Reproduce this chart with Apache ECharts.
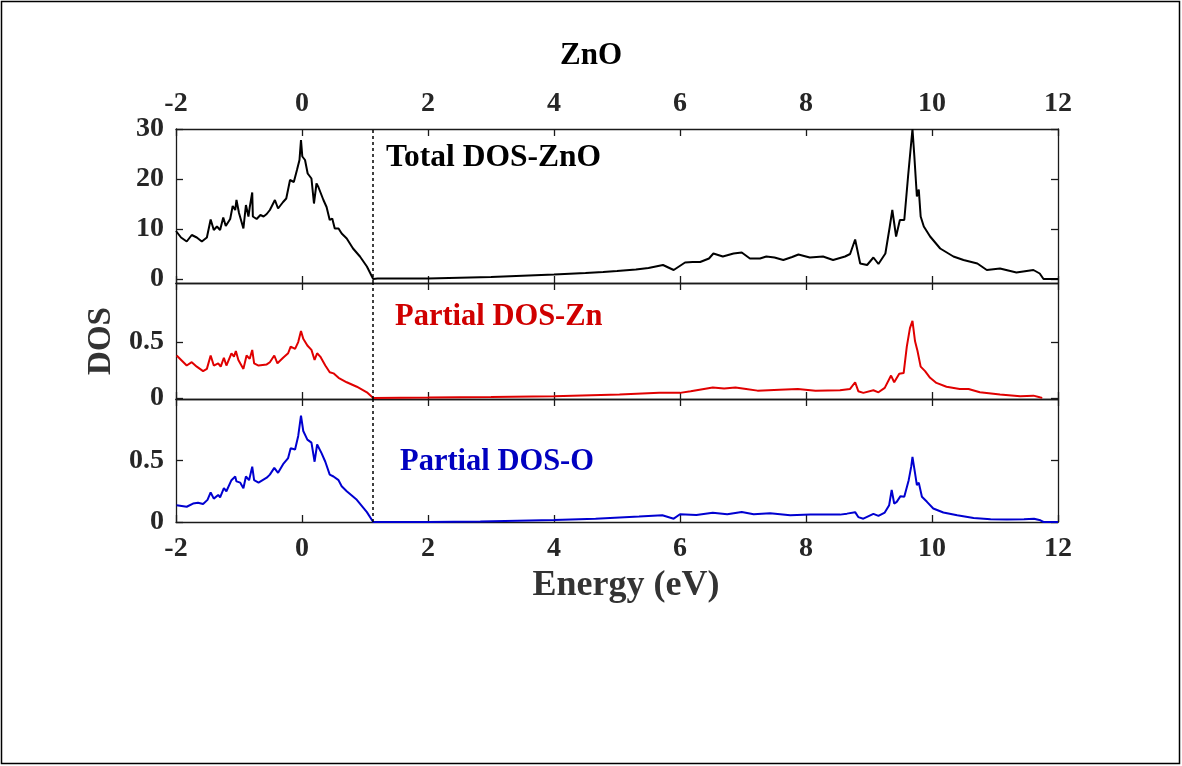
<!DOCTYPE html>
<html>
<head>
<meta charset="utf-8">
<script src="https://cdn.jsdelivr.net/npm/echarts@6/dist/echarts.min.js"></script>
<style>
html,body{margin:0;padding:0;background:#fff;}
#chart{width:1182px;height:766px;}
</style>
</head>
<body>
<div id="chart"></div>
<script>
// ---------- data ----------
const chartTitle = 'ZnO';
const xAxisName = 'Energy (eV)';
const yAxisName = 'DOS';
const panelLabels = ['Total DOS-ZnO', 'Partial DOS-Zn', 'Partial DOS-O'];
const energyTicks = [-2, 0, 2, 4, 6, 8, 10, 12];
const totalTicks = [0, 10, 20, 30];
const partialTicks = [0, 0.5];
const gapEdge = 1.13;

const energyTotal = [-2.00,-1.92,-1.83,-1.75,-1.67,-1.59,-1.51,-1.45,-1.40,-1.35,-1.30,-1.25,-1.21,-1.14,-1.10,-1.06,-1.04,-1.00,-0.93,-0.89,-0.85,-0.83,-0.79,-0.78,-0.72,-0.66,-0.61,-0.56,-0.51,-0.43,-0.38,-0.30,-0.25,-0.19,-0.13,-0.08,-0.04,-0.016,0.005,0.048,0.09,0.15,0.19,0.23,0.26,0.34,0.39,0.44,0.48,0.52,0.58,0.63,0.71,0.81,0.92,1.03,1.13,
  1.2,2.0,3.0,4.0,4.5,4.78,5.0,5.3,5.5,5.73,5.9,6.08,6.2,6.32,6.46,6.53,6.68,6.85,6.98,7.11,7.27,7.37,7.5,7.64,7.78,7.88,8.06,8.27,8.43,8.62,8.7,8.78,8.86,8.97,9.07,9.15,9.26,9.33,9.37,9.43,9.49,9.56,9.62,9.69,9.72,9.76,9.79,9.82,9.87,9.97,10.13,10.34,10.5,10.72,10.87,11.08,11.34,11.61,11.71,11.77,12.0];
const dosTotal = [9.6,8.3,7.5,8.8,8.3,7.5,8.3,11.9,9.8,10.5,9.8,12.3,10.6,12.0,14.6,13.8,15.8,13.2,10.1,14.8,12.5,14.3,17.3,12.5,12.0,12.8,12.5,13.0,13.8,15.8,14.1,15.4,16.1,19.8,19.4,21.8,23.8,27.8,24.5,23.8,21.1,20.1,15.1,19.1,18.4,15.8,14.4,11.8,12.1,10.1,10.1,9.1,8.1,6.1,4.5,2.5,0,
  0.1,0.1,0.4,0.9,1.2,1.4,1.6,1.9,2.2,2.8,1.8,3.3,3.4,3.4,4.1,5.1,4.5,5.1,5.3,4.1,4.1,4.5,4.3,3.8,4.4,4.9,4.3,4.5,3.8,4.5,5.0,7.9,3.1,2.8,4.3,3.0,5.1,10.5,13.8,8.5,11.8,11.8,20.5,30.0,24.5,16.5,17.9,12.5,10.5,8.5,6.1,4.5,3.8,3.1,1.8,2.1,1.3,1.8,1.1,0,0];

const energyZn = [-1.99,-1.83,-1.75,-1.67,-1.57,-1.51,-1.45,-1.40,-1.33,-1.29,-1.24,-1.20,-1.12,-1.08,-1.05,-1.01,-0.93,-0.88,-0.83,-0.79,-0.76,-0.69,-0.56,-0.51,-0.44,-0.39,-0.30,-0.22,-0.18,-0.11,-0.06,-0.016,0.02,0.085,0.15,0.20,0.24,0.29,0.37,0.44,0.50,0.58,0.71,0.87,1.03,1.13,
  2.0,3.0,4.0,5.04,5.67,6.0,6.17,6.52,6.7,6.88,7.05,7.23,7.58,7.87,8.15,8.54,8.70,8.78,8.83,8.91,9.07,9.15,9.25,9.35,9.40,9.48,9.55,9.60,9.65,9.69,9.73,9.77,9.79,9.82,9.89,9.97,10.07,10.23,10.44,10.58,10.76,11.08,11.40,11.61,11.71,11.75];
const dosZn = [0.38,0.29,0.32,0.28,0.24,0.26,0.38,0.29,0.31,0.28,0.36,0.29,0.40,0.37,0.42,0.34,0.26,0.38,0.35,0.43,0.31,0.29,0.30,0.32,0.38,0.31,0.36,0.40,0.46,0.44,0.50,0.60,0.53,0.47,0.43,0.34,0.40,0.37,0.29,0.23,0.22,0.18,0.14,0.10,0.05,0,
  0.003,0.008,0.015,0.03,0.045,0.045,0.06,0.094,0.085,0.094,0.08,0.065,0.074,0.08,0.065,0.068,0.08,0.14,0.06,0.045,0.068,0.05,0.09,0.20,0.14,0.217,0.223,0.46,0.625,0.69,0.51,0.42,0.43,0.28,0.24,0.18,0.134,0.10,0.08,0.08,0.05,0.03,0.015,0.02,0.005,0];

const energyO = [-1.99,-1.83,-1.73,-1.65,-1.57,-1.50,-1.45,-1.40,-1.33,-1.30,-1.24,-1.20,-1.12,-1.06,-1.04,-0.98,-0.93,-0.89,-0.84,-0.79,-0.76,-0.69,-0.56,-0.51,-0.44,-0.38,-0.30,-0.22,-0.18,-0.11,-0.06,-0.016,0.02,0.085,0.15,0.20,0.24,0.31,0.37,0.44,0.50,0.58,0.63,0.71,0.87,1.03,1.13,
  2.0,2.83,4.0,4.66,5.35,5.72,5.9,6.0,6.26,6.52,6.75,6.98,7.17,7.43,7.75,8.07,8.54,8.65,8.78,8.83,8.91,9.07,9.15,9.25,9.32,9.36,9.40,9.44,9.50,9.56,9.63,9.67,9.69,9.73,9.76,9.79,9.84,9.92,10.02,10.18,10.4,10.66,10.93,11.19,11.46,11.62,11.72,11.77,12.0];
const dosO = [0.137,0.124,0.15,0.157,0.146,0.18,0.24,0.19,0.22,0.20,0.275,0.25,0.34,0.37,0.33,0.32,0.275,0.37,0.34,0.45,0.34,0.32,0.36,0.385,0.44,0.40,0.47,0.52,0.60,0.59,0.70,0.865,0.74,0.67,0.645,0.49,0.63,0.56,0.49,0.385,0.37,0.34,0.29,0.25,0.18,0.08,0,
  0.0,0.005,0.016,0.027,0.044,0.055,0.027,0.063,0.057,0.076,0.063,0.082,0.063,0.071,0.055,0.06,0.06,0.068,0.08,0.04,0.027,0.066,0.05,0.077,0.137,0.26,0.15,0.164,0.21,0.205,0.34,0.45,0.53,0.40,0.30,0.32,0.205,0.164,0.11,0.077,0.055,0.033,0.022,0.02,0.022,0.027,0.014,0,0];

// ---------- chart ----------
const zip = (xs, ys) => xs.map((x, i) => [x, ys[i]]);
const FONT = "'Liberation Serif', 'Times New Roman', serif";
const tickColor = '#262626';

const grids = [
  {left: 176, width: 882, top: 129, height: 154},
  {left: 176, width: 882, top: 283, height: 116},
  {left: 176, width: 882, top: 399, height: 123}
];
const yRanges = [[-0.8, 30], [-0.01, 1.03], [0, 1.0]];
const yTicks = [totalTicks, partialTicks, partialTicks];
const colors = ['#000000', '#e00000', '#0000d0'];
const labelColors = ['#000000', '#d00000', '#0000c0'];
const seriesData = [zip(energyTotal, dosTotal), zip(energyZn, dosZn), zip(energyO, dosO)];

const axisLineStyle = {show: true, onZero: false, lineStyle: {color: '#1a1a1a', width: 1.3}};
const tickStyle = () => ({show: true, inside: true, length: 7, lineStyle: {color: '#1a1a1a', width: 1.3}});
const labelFont = {color: tickColor, fontFamily: FONT, fontWeight: 'bold', fontSize: 28};

const xAxes = [], yAxes = [];
grids.forEach((g, i) => {
  const base = {
    type: 'value', gridIndex: i, min: -2, max: 12, interval: 2,
    axisLine: axisLineStyle, axisTick: tickStyle(), splitLine: {show: false}
  };
  xAxes.push(Object.assign({}, base, {
    position: 'bottom',
    axisLabel: Object.assign({show: i === 2, margin: 13}, labelFont),
    name: i === 2 ? xAxisName : '', nameLocation: 'middle', nameGap: 46,
    nameTextStyle: {color: '#333', fontFamily: FONT, fontWeight: 'bold', fontSize: 36, padding: [0, 0, 0, 18]}
  }));
  xAxes.push(Object.assign({}, base, {
    position: 'top',
    axisLabel: Object.assign({show: i === 0, margin: 11}, labelFont)
  }));
  const ybase = {
    type: 'value', gridIndex: i, min: yRanges[i][0], max: yRanges[i][1],
    axisLine: axisLineStyle, splitLine: {show: false}
  };
  yAxes.push(Object.assign({}, ybase, {
    position: 'left',
    axisTick: Object.assign(tickStyle(), {customValues: yTicks[i]}),
    axisLabel: Object.assign({show: true, customValues: yTicks[i], margin: 12}, labelFont),
    name: i === 1 ? yAxisName : '', nameLocation: 'middle', nameGap: 55, nameRotate: 90,
    nameTextStyle: {color: '#333', fontFamily: FONT, fontWeight: 'bold', fontSize: 33}
  }));
  yAxes.push(Object.assign({}, ybase, {
    position: 'right',
    axisTick: Object.assign(tickStyle(), {customValues: yTicks[i]}),
    axisLabel: {show: false}
  }));
});

const series = seriesData.map((d, i) => ({
  type: 'line', xAxisIndex: 2 * i, yAxisIndex: 2 * i, data: d,
  showSymbol: false, symbol: 'none', clip: true,
  lineStyle: {color: colors[i], width: 2}, itemStyle: {color: colors[i]},
  markLine: {
    silent: true, symbol: 'none', label: {show: false},
    lineStyle: {color: '#000', type: [3, 3], width: 1.5},
    data: [{xAxis: gapEdge}]
  }
}));

const labelPos = [[386, 142], [395, 302], [400, 447]];
const labelSizes = [31.5, 30.5, 30.5];
const titles = [{
  text: chartTitle, left: 'center', top: 35,
  textStyle: {color: '#000', fontFamily: FONT, fontWeight: 'bold', fontSize: 31}
}].concat(panelLabels.map((t, i) => ({
  text: t, left: labelPos[i][0], top: labelPos[i][1], padding: 0,
  textStyle: {color: labelColors[i], fontFamily: FONT, fontWeight: 'bold', fontSize: labelSizes[i]}
})));

const chart = echarts.init(document.getElementById('chart'), null, {renderer: 'canvas'});
chart.setOption({
  animation: false,
  backgroundColor: '#fff',
  title: titles,
  grid: grids,
  xAxis: xAxes,
  yAxis: yAxes,
  series: series,
  graphic: [{
    type: 'rect', silent: true, z: 100,
    shape: {x: 1.5, y: 1.5, width: 1178, height: 762},
    style: {fill: 'none', stroke: '#000', lineWidth: 1.5}
  }]
});
</script>
</body>
</html>
